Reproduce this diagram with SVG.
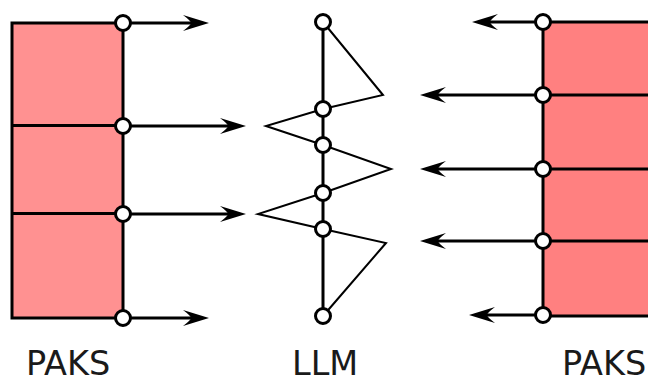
<svg xmlns="http://www.w3.org/2000/svg" width="648" height="383" viewBox="0 0 648 383">
<style>
.blk{fill:none;stroke:#000;stroke-width:3}
.arr{fill:none;stroke:#000;stroke-width:2.8}
.zig{fill:none;stroke:#000;stroke-width:2;stroke-linejoin:miter}
.pt{fill:#fff;stroke:#000;stroke-width:3}
.lbl{font-family:"DejaVu Sans",sans-serif;font-size:33.5px;fill:#1a1a1a}
</style>
<defs>
<marker id="ah" markerUnits="userSpaceOnUse" markerWidth="30" markerHeight="20" viewBox="0 -10 30 20" refX="8" refY="0" orient="auto" overflow="visible">
<path d="M26,0 L0,-8 Q8,-2 8,0 Q8,2 0,8 Z" fill="#000"/>
</marker>
</defs>
<g id="connectors">
<line class="arr" x1="123" y1="23" x2="191" y2="23" marker-end="url(#ah)"/>
<line class="arr" x1="123" y1="126" x2="228" y2="126" marker-end="url(#ah)"/>
<line class="arr" x1="123" y1="214" x2="228" y2="214" marker-end="url(#ah)"/>
<line class="arr" x1="123" y1="318" x2="191" y2="318" marker-end="url(#ah)"/>
<line class="arr" x1="543" y1="22" x2="490" y2="22" marker-end="url(#ah)"/>
<line class="arr" x1="543" y1="95" x2="438" y2="95" marker-end="url(#ah)"/>
<line class="arr" x1="543" y1="169" x2="438" y2="169" marker-end="url(#ah)"/>
<line class="arr" x1="543" y1="241" x2="438" y2="241" marker-end="url(#ah)"/>
<line class="arr" x1="543" y1="315" x2="487" y2="315" marker-end="url(#ah)"/>
</g>
<g id="paks-left">
<rect x="12" y="23" width="111" height="295" fill="#ff9191" stroke="#000" stroke-width="3"/>
<line class="blk" x1="12" y1="125.5" x2="123" y2="125.5"/>
<line class="blk" x1="12" y1="213.5" x2="123" y2="213.5"/>
<circle class="pt" cx="123" cy="23" r="7.5"/>
<circle class="pt" cx="123" cy="126" r="7.5"/>
<circle class="pt" cx="123" cy="214" r="7.5"/>
<circle class="pt" cx="123" cy="318" r="7.5"/>
<text class="lbl" x="26" y="375">PAKS</text>
</g>
<g id="llm">
<line class="blk" x1="323" y1="22" x2="323" y2="316"/>
<polyline class="zig" points="323,22 383,95 323,109 266,126 323,145 391,169 323,193 258,214 323,229 386,243 323,316"/>
<circle class="pt" cx="323" cy="22" r="7.5"/>
<circle class="pt" cx="323" cy="109" r="7.5"/>
<circle class="pt" cx="323" cy="145" r="7.5"/>
<circle class="pt" cx="323" cy="193" r="7.5"/>
<circle class="pt" cx="323" cy="229" r="7.5"/>
<circle class="pt" cx="323" cy="316" r="7.5"/>
<text class="lbl" x="292" y="375">LLM</text>
</g>
<g id="paks-right">
<rect x="543" y="22" width="120" height="294" fill="#ff8080" stroke="#000" stroke-width="3"/>
<line class="blk" x1="543" y1="95" x2="648" y2="95"/>
<line class="blk" x1="543" y1="169" x2="648" y2="169"/>
<line class="blk" x1="543" y1="241" x2="648" y2="241"/>
<circle class="pt" cx="543" cy="22" r="7.5"/>
<circle class="pt" cx="543" cy="95" r="7.5"/>
<circle class="pt" cx="543" cy="169" r="7.5"/>
<circle class="pt" cx="543" cy="241" r="7.5"/>
<circle class="pt" cx="543" cy="315" r="7.5"/>
<text class="lbl" x="562" y="375">PAKS</text>
</g>
</svg>
